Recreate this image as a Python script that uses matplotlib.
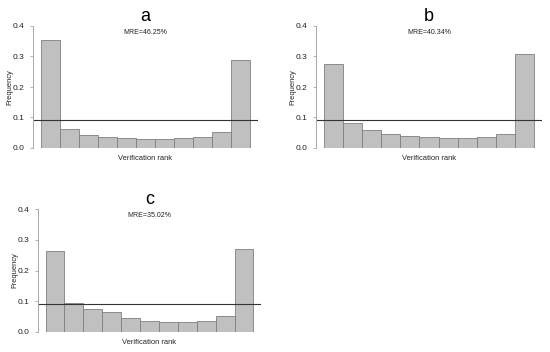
import numpy as np
import matplotlib
matplotlib.use("Agg")
import matplotlib.pyplot as plt

plt.rcParams['font.family'] = ['Liberation Sans', 'DejaVu Sans']

panels = ['a', 'b', 'c']
mre = ['MRE=46.25%', 'MRE=40.34%', 'MRE=35.02%']
freq_a = [0.355, 0.063, 0.043, 0.036, 0.032, 0.030, 0.030, 0.032, 0.037, 0.052, 0.290]
freq_b = [0.277, 0.083, 0.058, 0.047, 0.040, 0.036, 0.034, 0.033, 0.036, 0.045, 0.308]
freq_c = [0.262, 0.094, 0.074, 0.066, 0.045, 0.036, 0.034, 0.033, 0.036, 0.052, 0.270]
yticks = [0.0, 0.1, 0.2, 0.3, 0.4]

fig = plt.figure(figsize=(5.5, 3.52), dpi=100)

# axes boxes in figure fraction
boxes = [
    [33 / 550, 1 - 148 / 352, 225 / 550, 122 / 352],
    [316 / 550, 1 - 148 / 352, 226 / 550, 122 / 352],
    [38 / 550, 1 - 332 / 352, 223 / 550, 123 / 352],
]

for name, label, freq, box in zip(panels, mre, [freq_a, freq_b, freq_c], boxes):
    ax = fig.add_axes(box)
    ax.patch.set_alpha(0)
    n = len(freq)
    ax.bar(np.arange(n) + 0.5, freq, width=1.0, color='#c0c0c0',
           edgecolor='#7f7f7f', linewidth=0.6, zorder=1)
    ax.axhline(1 / n, color='#333333', linewidth=0.8, zorder=2)
    ax.set_xlim(-0.4, n + 0.4)
    ax.set_ylim(0, 0.4)
    for s in ['top', 'right', 'bottom']:
        ax.spines[s].set_visible(False)
    ax.spines['left'].set_color('#a8a8a8')
    ax.spines['left'].set_linewidth(0.7)
    ax.spines['left'].set_bounds(0, 0.4)
    ax.set_xticks([])
    ax.set_yticks(yticks)
    ax.set_yticklabels([f'{t:.1f}' for t in yticks])
    ax.tick_params(axis='y', length=2, width=0.6, color='#a8a8a8',
                   labelsize=6, labelcolor='#222222', pad=4)
    ax.text(n / 2, 0.43, name, ha='center', va='center', fontsize=13, clip_on=False)
    ax.text(n / 2, 0.38, label, ha='center', va='center', fontsize=5, color='#222222')
    ax.text(n / 2, -0.035, 'Verification rank', ha='center', va='center',
            fontsize=5.4, color='#222222', clip_on=False)
    ax.text(-0.4 - 23 / 19.1, 0.2, 'Frequency', ha='center', va='center', rotation=90,
            fontsize=5.4, color='#222222', clip_on=False)

fig.savefig('out.png', dpi=100)
